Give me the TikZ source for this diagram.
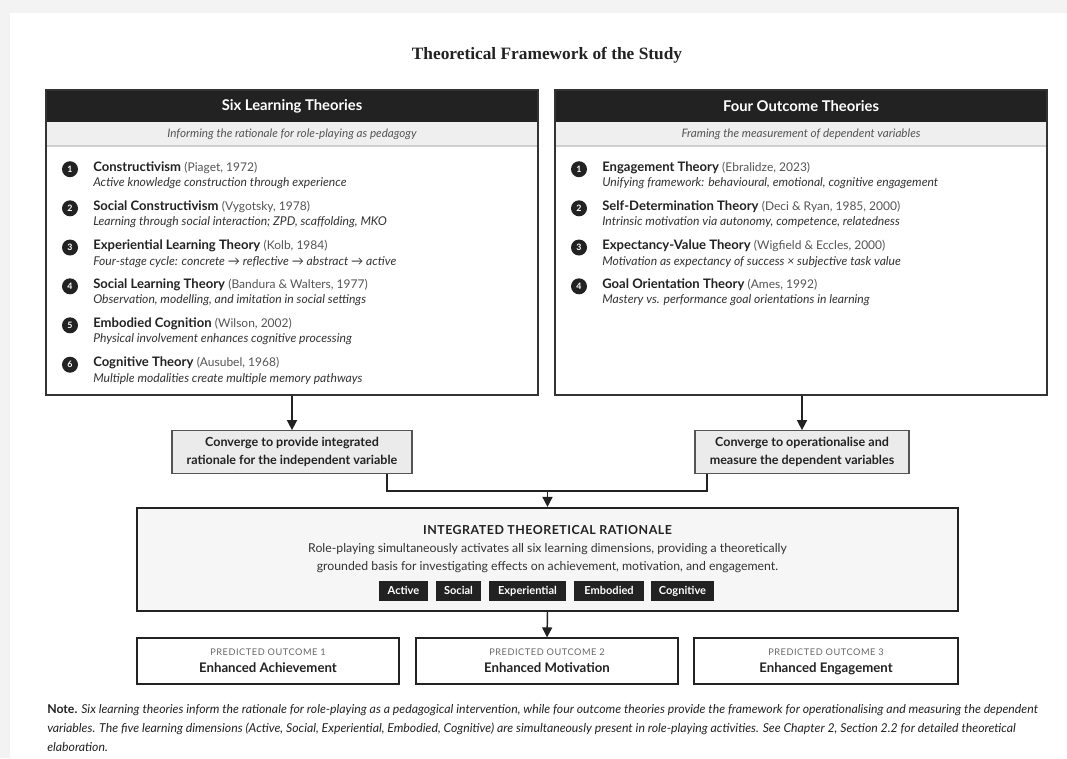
\documentclass[tikz,border=0pt]{standalone}
\usepackage{fontspec}
\setmainfont{Lato}
\newfontfamily\headserif{Liberation Serif}
\usetikzlibrary{arrows.meta,fit,positioning}

\definecolor{pagegray}{HTML}{F3F3F3}
\definecolor{ink}{HTML}{222222}
\definecolor{frame}{HTML}{333333}
\definecolor{band}{HTML}{EFEFEF}
\definecolor{bandline}{HTML}{CFCFCF}
\definecolor{citegray}{HTML}{555555}
\definecolor{descgray}{HTML}{333333}
\definecolor{convfill}{HTML}{EBEBEB}
\definecolor{convline}{HTML}{555555}
\definecolor{intfill}{HTML}{F6F6F6}
\definecolor{labelgray}{HTML}{666666}

\tikzset{
  panelframe/.style={draw=frame, line width=1.1pt, inner sep=0pt},
  numdot/.style={circle, fill=ink, text=white, inner sep=0pt, minimum size=12pt,
    text height=4.6pt, text depth=0pt,
    font=\fontsize{6.6pt}{7pt}\selectfont\bfseries},
  rowtitle/.style={inner sep=0pt, text=ink, font=\fontsize{9.8pt}{11pt}\selectfont},
  rowdesc/.style={inner sep=0pt, text=descgray, font=\fontsize{9.1pt}{10pt}\selectfont\itshape},
  convbox/.style={draw=convline, fill=convfill, line width=0.8pt, inner sep=0pt, align=center,
    text=ink, font=\fontsize{9.4pt}{13.5pt}\selectfont\bfseries},
  tagbox/.style={fill=ink, text=white, inner sep=0pt, minimum height=15pt,
    text height=6.2pt, text depth=0.6pt,
    font=\fontsize{8.3pt}{9pt}\selectfont\bfseries},
  outbox/.style={draw=ink, line width=0.9pt, fill=white, inner sep=0pt},
  link/.style={draw=ink, line width=1.1pt},
  arr/.style={link, -{Triangle[length=7.5pt,width=7.5pt]}},
}

% one numbered theory entry: name, panel left x, title centre y, number, title, citation, description
\newcommand\theoryrow[7]{%
  \node[numdot] (#1n) at ({#2+24},{#3+2.5}) {#4};
  \node[rowtitle, anchor=base west] (#1t) at ({#2+47},{#3+4.5})
    {\textbf{#5} {\fontsize{9pt}{10pt}\selectfont\color{citegray}#6}};
  \node[rowdesc, anchor=base west] (#1d) at ({#2+47},{#3+20}) {#7};
}

\begin{document}
\begin{tikzpicture}[x=0.75pt, y=-0.75pt]
\useasboundingbox (0,0) rectangle (1067,758);
\fill[pagegray] (0,0) rectangle (1067,758);
\fill[white] (10,13) rectangle (1067,758);

% title
\node[font=\headserif\fontsize{13pt}{15pt}\selectfont\bfseries, text=ink] (title) at (547,55)
  {Theoretical Framework of the Study};

% ---------- left panel: learning theories ----------
\fill[ink] (46,90) rectangle (538,122);
\fill[band] (46,122) rectangle (538,146);
\draw[bandline, line width=0.8pt] (46,146) -- (538,146);
\node[text=white, font=\fontsize{11.1pt}{13pt}\selectfont\bfseries] (Lhead) at (292,106.5) {Six Learning Theories};
\node[text=citegray, font=\fontsize{8.75pt}{10pt}\selectfont\itshape] (Lsub) at (292,134.5)
  {Informing the rationale for role-playing as pedagogy};

\theoryrow{L1}{46}{166.7}{1}{Constructivism}{(Piaget, 1972)}{Active knowledge construction through experience}
\theoryrow{L2}{46}{205.8}{2}{Social Constructivism}{(Vygotsky, 1978)}{Learning through social interaction; ZPD, scaffolding, MKO}
\theoryrow{L3}{46}{245}{3}{Experiential Learning Theory}{(Kolb, 1984)}{Four-stage cycle: concrete \textrightarrow{} reflective \textrightarrow{} abstract \textrightarrow{} active}
\theoryrow{L4}{46}{283.8}{4}{Social Learning Theory}{(Bandura \& Walters, 1977)}{Observation, modelling, and imitation in social settings}
\theoryrow{L5}{46}{322.8}{5}{Embodied Cognition}{(Wilson, 2002)}{Physical involvement enhances cognitive processing}
\theoryrow{L6}{46}{362.2}{6}{Cognitive Theory}{(Ausubel, 1968)}{Multiple modalities create multiple memory pathways}

\coordinate (Ltl) at (46,90);
\coordinate (Lbr) at (538,395);
\node[panelframe, fit=(Ltl)(Lbr)] (L) {};

% ---------- right panel: outcome theories ----------
\fill[ink] (555,90) rectangle (1047,122);
\fill[band] (555,122) rectangle (1047,146);
\draw[bandline, line width=0.8pt] (555,146) -- (1047,146);
\node[text=white, font=\fontsize{11.1pt}{13pt}\selectfont\bfseries] (Rhead) at (801,106.5) {Four Outcome Theories};
\node[text=citegray, font=\fontsize{8.75pt}{10pt}\selectfont\itshape] (Rsub) at (801,134.5)
  {Framing the measurement of dependent variables};

\theoryrow{R1}{555}{166.7}{1}{Engagement Theory}{(Ebralidze, 2023)}{Unifying framework: behavioural, emotional, cognitive engagement}
\theoryrow{R2}{555}{205.8}{2}{Self-Determination Theory}{(Deci \& Ryan, 1985, 2000)}{Intrinsic motivation via autonomy, competence, relatedness}
\theoryrow{R3}{555}{245}{3}{Expectancy-Value Theory}{(Wigfield \& Eccles, 2000)}{Motivation as expectancy of success \texttimes{} subjective task value}
\theoryrow{R4}{555}{283.8}{4}{Goal Orientation Theory}{(Ames, 1992)}{Mastery vs. performance goal orientations in learning}

\coordinate (Rtl) at (555,90);
\coordinate (Rbr) at (1047,395);
\node[panelframe, fit=(Rtl)(Rbr)] (R) {};

% ---------- convergence boxes ----------
\node[convbox, minimum width=180pt, minimum height=32pt] (cL) at (292,452)
  {Converge to provide integrated\\rationale for the independent variable};
\node[convbox, minimum width=160.5pt, minimum height=32pt] (cR) at (802,452)
  {Converge to operationalise and\\measure the dependent variables};

\draw[arr] (L.south -| cL.north) -- (cL.north);
\draw[arr] (R.south -| cR.north) -- (cR.north);

% ---------- integrated rationale ----------
\node[draw=ink, fill=intfill, line width=1.6pt, inner sep=0pt,
  minimum width=615.75pt, minimum height=77.25pt] (I) at (547.5,559.5) {};
\node[text=ink, font=\fontsize{9.3pt}{11pt}\selectfont\bfseries\addfontfeatures{LetterSpace=4}] (Ititle) at (547.5,530)
  {INTEGRATED THEORETICAL RATIONALE};
\node[text=descgray, align=center, font=\fontsize{9.2pt}{13.5pt}\selectfont] (Ibody) at (547.5,558)
  {Role-playing simultaneously activates all six learning dimensions, providing a theoretically\\
   grounded basis for investigating effects on achievement, motivation, and engagement.};

\node[tagbox, minimum width=36.75pt] (tA) at (403.5,591) {Active};
\node[tagbox, minimum width=33.75pt] (tS) at (458.5,591) {Social};
\node[tagbox, minimum width=57.75pt] (tX) at (527.5,591) {Experiential};
\node[tagbox, minimum width=52.5pt] (tE) at (609,591) {Embodied};
\node[tagbox, minimum width=47.25pt] (tC) at (682.5,591) {Cognitive};

\coordinate (j) at (547.5,491);
\draw[link] ([xshift=71.25pt]cL.south) |- (j) -| ([xshift=-71.25pt]cR.south);
\draw[arr] (j) -- (I.north);

% ---------- predicted outcomes ----------
\node[outbox, minimum width=196.5pt, minimum height=34.5pt] (O1) at (268,661) {};
\node[outbox, minimum width=196.5pt, minimum height=34.5pt] (O2) at (547,661) {};
\node[outbox, minimum width=198pt, minimum height=34.5pt] (O3) at (826,661) {};

\foreach \o/\n/\t in {O1/1/Enhanced Achievement, O2/2/Enhanced Motivation, O3/3/Enhanced Engagement}{
  \node[anchor=base, inner sep=0pt, text=labelgray, font=\fontsize{6.9pt}{8pt}\selectfont\addfontfeatures{LetterSpace=6}]
    (\o lab) at ([yshift=4pt]\o.center) {PREDICTED OUTCOME \n};
  \node[anchor=base, inner sep=0pt, text=ink, font=\fontsize{9.9pt}{11pt}\selectfont\bfseries]
    (\o name) at ([yshift=-8.5pt]\o.center) {\t};
}

\draw[arr] (I.south) -- (O2.north);

% ---------- note ----------
\tikzset{noteline/.style={anchor=base west, inner sep=0pt, text=ink, font=\fontsize{9.2pt}{10pt}\selectfont\itshape}}
\node[noteline] (n1) at (47,713) {\textbf{\upshape Note.} Six learning theories inform the rationale for role-playing as a pedagogical intervention, while four outcome theories provide the framework for operationalising and measuring the dependent};
\node[noteline] (n2) at (47,732) {variables. The five learning dimensions (Active, Social, Experiential, Embodied, Cognitive) are simultaneously present in role-playing activities. See Chapter 2, Section 2.2 for detailed theoretical};
\node[noteline] (n3) at (47,751) {elaboration.};
\end{tikzpicture}
\end{document}
